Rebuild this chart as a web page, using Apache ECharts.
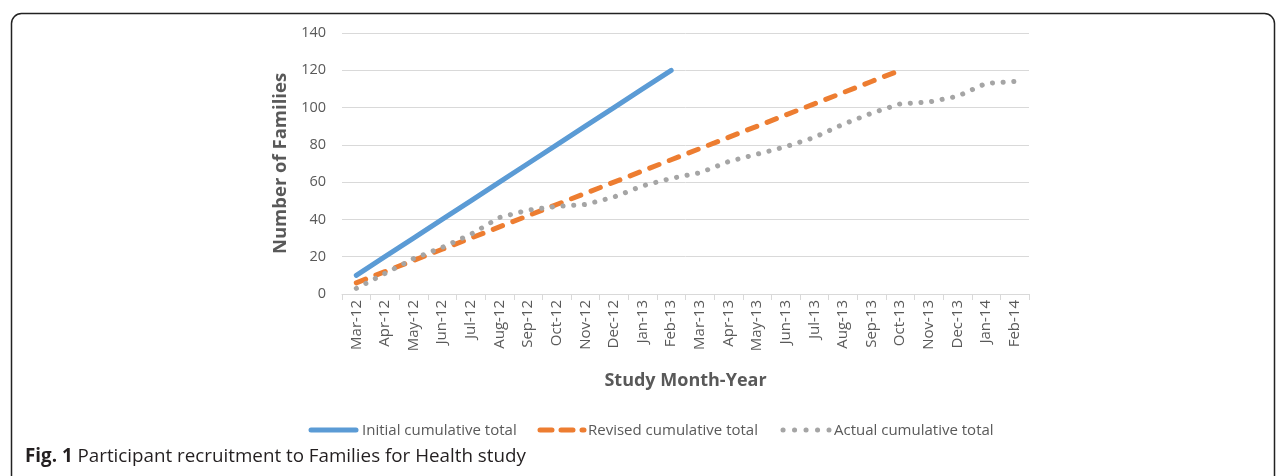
<!DOCTYPE html>
<html>
<head>
<meta charset="utf-8">
<script src="https://cdn.jsdelivr.net/npm/echarts@6/dist/echarts.min.js"></script>
<style>
  html, body { margin: 0; padding: 0; background: #fff; }
  #chart { width: 1281px; height: 476px; }
</style>
</head>
<body>
<div id="chart"></div>
<script>
// data
const months = ['Mar-12', 'Apr-12', 'May-12', 'Jun-12', 'Jul-12', 'Aug-12', 'Sep-12', 'Oct-12',
  'Nov-12', 'Dec-12', 'Jan-13', 'Feb-13', 'Mar-13', 'Apr-13', 'May-13', 'Jun-13', 'Jul-13',
  'Aug-13', 'Sep-13', 'Oct-13', 'Nov-13', 'Dec-13', 'Jan-14', 'Feb-14'];
const seriesNames = ['Initial cumulative total', 'Revised cumulative total', 'Actual cumulative total'];
const initialTotal = [10, 20, 30, 40, 50, 60, 70, 80, 90, 100, 110, 120];
const revisedTotal = [6, 12, 18, 24, 30, 36, 42, 48, 54, 60, 66, 72, 78, 84, 90, 96, 102, 108, 114, 120];
const actualTotal = [3, 11, 19, 25, 32, 41, 45, 47, 48, 52, 58, 62, 65, 71, 75, 79, 84, 91, 97, 102, 103, 106, 113, 114];

const textColor = '#595959';
const font = '"Open Sans", "Noto Sans", sans-serif';
const blue = '#5b9bd5', orange = '#ed7d31', grey = '#a5a5a5';

const chart = echarts.init(document.getElementById('chart'));

// legend swatches drawn by hand so the dash patterns match
function swatch(x1, x2, color, dash) {
  return {
    type: 'line',
    silent: true,
    shape: { x1: x1, y1: 430, x2: x2, y2: 430 },
    style: { stroke: color, lineWidth: 5, lineCap: 'round', lineDash: dash || null }
  };
}

// one legend per entry so each text sits where the figure has it
function legendAt(name, left) {
  return {
    top: 418,
    left: left,
    itemWidth: 50,
    itemHeight: 10,
    icon: 'none',
    textStyle: { color: textColor, fontSize: 15, fontFamily: font },
    data: [name]
  };
}

chart.setOption({
  animation: false,
  textStyle: { fontFamily: font },
  grid: { left: 342, right: 252, top: 33, bottom: 182, containLabel: false },
  legend: [
    legendAt(seriesNames[0], 302),
    legendAt(seriesNames[1], 528),
    legendAt(seriesNames[2], 774)
  ],
  xAxis: {
    type: 'category',
    data: months,
    name: 'Study Month-Year',
    nameLocation: 'middle',
    nameGap: 78,
    nameTextStyle: { color: textColor, fontSize: 18, fontWeight: 'bold', fontFamily: font },
    axisLine: { lineStyle: { color: '#d9d9d9', width: 1 } },
    axisTick: { show: true, length: 6, lineStyle: { color: '#d9d9d9' } },
    axisLabel: { rotate: 90, color: textColor, fontSize: 15, margin: 6, fontFamily: font }
  },
  yAxis: {
    type: 'value',
    min: 0,
    max: 140,
    interval: 20,
    name: 'Number of Families',
    nameLocation: 'middle',
    nameGap: 50,
    nameTextStyle: { color: textColor, fontSize: 18.5, fontWeight: 'bold', fontFamily: font },
    axisLine: { show: false },
    axisTick: { show: false },
    axisLabel: { color: textColor, fontSize: 14.5, margin: 16, fontFamily: font },
    splitLine: { lineStyle: { color: '#d9d9d9', width: 1 } }
  },
  series: [
    {
      name: seriesNames[0],
      type: 'line',
      data: initialTotal,
      symbol: 'none',
      itemStyle: { color: blue },
      lineStyle: { color: blue, width: 5, cap: 'round' }
    },
    {
      name: seriesNames[1],
      type: 'line',
      data: revisedTotal,
      symbol: 'none',
      itemStyle: { color: orange },
      lineStyle: { color: orange, width: 5, type: [10, 11], cap: 'round' }
    },
    {
      name: seriesNames[2],
      type: 'line',
      data: actualTotal,
      symbol: 'none',
      itemStyle: { color: grey },
      lineStyle: { color: grey, width: 5, type: [0.1, 10.6], cap: 'round' }
    }
  ],
  graphic: [
    {
      type: 'rect',
      left: 9,
      top: 11,
      shape: { width: 1263, height: 480, r: 10 },
      style: { fill: 'none', stroke: '#222', lineWidth: 1.5 },
      silent: true
    },
    swatch(311, 356, blue),
    swatch(540, 584, orange, [12, 9]),
    swatch(783, 829, grey, [0.1, 11.4]),
    {
      type: 'text',
      left: 25,
      top: 447,
      style: {
        text: '{b|Fig. 1} Participant recruitment to Families for Health study',
        fill: '#231f20',
        font: '18.8px ' + font,
        rich: {
          b: { fontWeight: 'bold', fontSize: 18.8, fontFamily: font, fill: '#231f20' }
        }
      }
    }
  ]
});
</script>
</body>
</html>
